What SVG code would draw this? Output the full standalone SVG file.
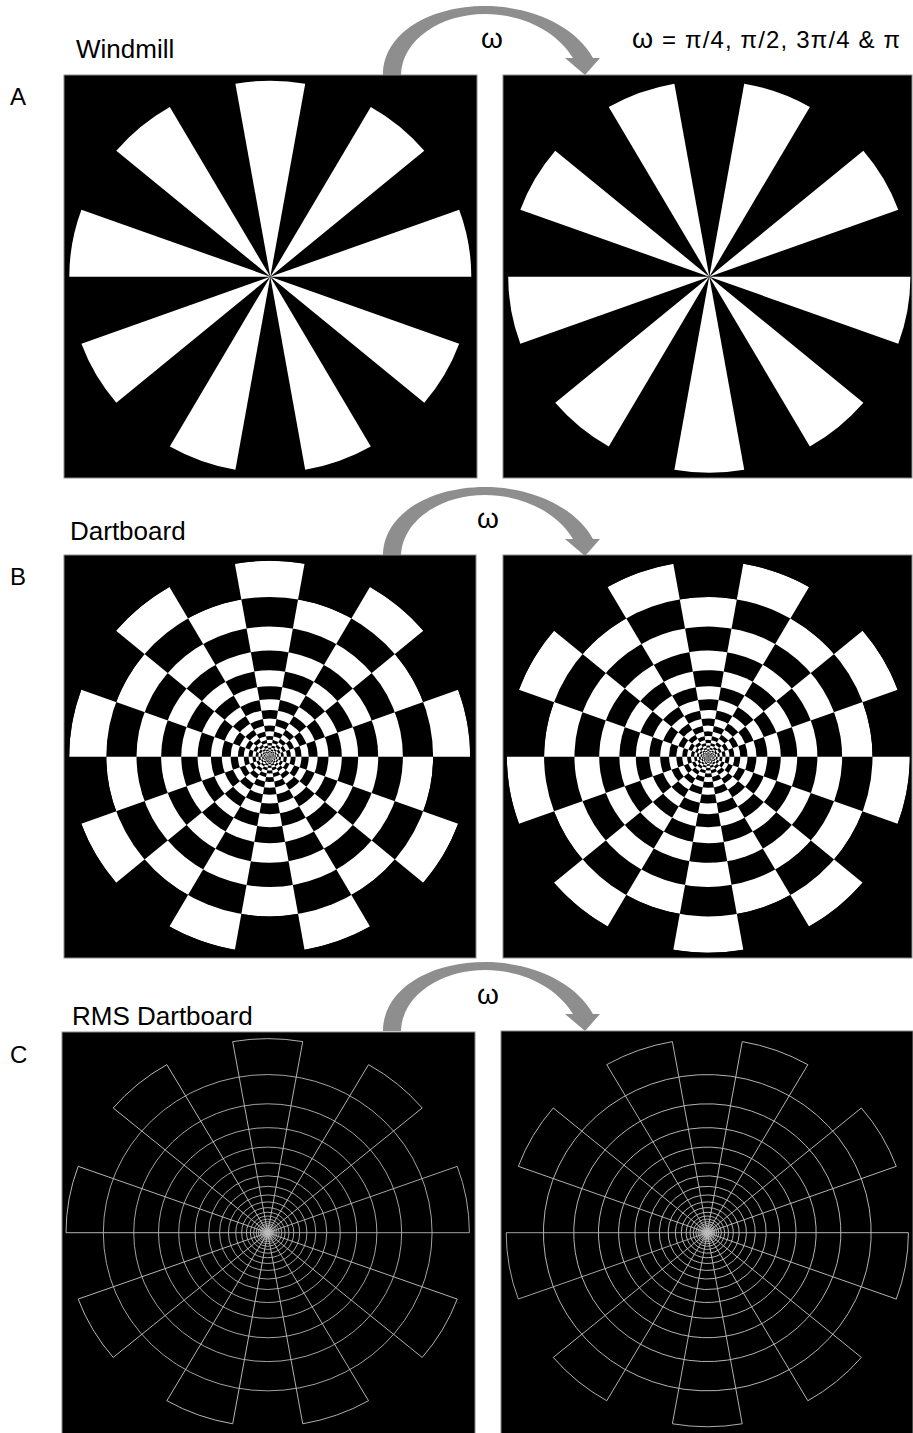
<svg xmlns="http://www.w3.org/2000/svg" xmlns:xlink="http://www.w3.org/1999/xlink" width="913" height="1433" viewBox="0 0 913 1433">
<style>
.lbl{font-family:"Liberation Sans",Arial,sans-serif;fill:#000}
.panel{fill:#000;stroke:#8a8a8a;stroke-width:1}
.arrow{fill:#8e8e8e}
.rms{fill:none;stroke:#bdbdbd;stroke-width:0.85}
</style>
<defs>
<path id="wedge" d="M0 0 L196 0 A196 196 0 0 0 184.18 -67.04 Z"/>
<g id="wind">
<use href="#wedge"/>
<use href="#wedge" transform="rotate(-40)"/>
<use href="#wedge" transform="rotate(-80)"/>
<use href="#wedge" transform="rotate(-120)"/>
<use href="#wedge" transform="rotate(-160)"/>
<use href="#wedge" transform="rotate(-200)"/>
<use href="#wedge" transform="rotate(-240)"/>
<use href="#wedge" transform="rotate(-280)"/>
<use href="#wedge" transform="rotate(-320)"/>
</g>
<mask id="even" maskUnits="userSpaceOnUse" x="-250" y="-250" width="500" height="500">
<circle r="196" fill="#fff"/><circle r="159.74" fill="#000"/>
<circle r="130.19" fill="#fff"/><circle r="106.10" fill="#000"/>
<circle r="86.47" fill="#fff"/><circle r="70.48" fill="#000"/>
<circle r="57.44" fill="#fff"/><circle r="46.81" fill="#000"/>
<circle r="38.15" fill="#fff"/><circle r="31.09" fill="#000"/>
<circle r="25.34" fill="#fff"/><circle r="20.65" fill="#000"/>
<circle r="16.83" fill="#fff"/><circle r="13.72" fill="#000"/>
<circle r="11.18" fill="#fff"/><circle r="9.11" fill="#000"/>
<circle r="7.43" fill="#fff"/><circle r="6.05" fill="#000"/>
<circle r="4.93" fill="#fff"/><circle r="4.02" fill="#000"/>
<circle r="3.28" fill="#fff"/><circle r="2.67" fill="#000"/>
<circle r="2.18" fill="#fff"/><circle r="1.77" fill="#000"/>
<circle r="1.45" fill="#fff"/>
</mask>
<g id="dart">
<use href="#wind" fill="#fff" transform="rotate(-20) scale(0.815)"/>
<g mask="url(#even)">
<circle r="197" fill="#000"/>
<use href="#wind" fill="#fff"/>
</g>
</g>
<g id="rmsLines" class="rms">
<use href="#wind"/>
<circle r="159.74"/><circle r="130.19"/><circle r="106.10"/><circle r="86.47"/>
<circle r="70.48"/><circle r="57.44"/><circle r="46.81"/><circle r="38.15"/>
<circle r="31.09"/><circle r="25.34"/><circle r="20.65"/><circle r="16.83"/>
<circle r="13.72"/><circle r="11.18"/><circle r="9.11"/><circle r="7.43"/>
<circle r="6.05"/><circle r="4.93"/><circle r="4.02"/><circle r="3.28"/>
<circle r="2.67"/><circle r="2.18"/><circle r="1.77"/><circle r="1.45"/>
</g>
<path id="arc" d="M383 75 C383 33 430 6 485 6 C530 6 575 25 593 58 L600 58 L585 75 L565 58 L573 58 C558 33 525 14 485 14 C440 14 402 40 401 75 Z"/>
</defs>
<rect width="913" height="1433" fill="#fff"/>

<g id="connectors">
<use href="#arc" class="arrow"/>
<use href="#arc" class="arrow" transform="translate(0 481)"/>
<use href="#arc" class="arrow" transform="translate(0 956)"/>
</g>

<g id="labels">
<text class="lbl" x="10" y="105" font-size="24">A</text>
<text class="lbl" x="76" y="58" font-size="26">Windmill</text>
<text class="lbl" x="481" y="48" font-size="28">ω</text>
<text class="lbl" x="632" y="48" font-size="24" textLength="268" lengthAdjust="spacing"><tspan font-size="27">ω</tspan> = π/4, π/2, 3π/4 &amp; π</text>
<text class="lbl" x="10" y="585" font-size="24">B</text>
<text class="lbl" x="70" y="540" font-size="26">Dartboard</text>
<text class="lbl" x="477" y="528" font-size="28">ω</text>
<text class="lbl" x="10" y="1063" font-size="24">C</text>
<text class="lbl" x="72" y="1025" font-size="26">RMS Dartboard</text>
<text class="lbl" x="477" y="1004" font-size="28">ω</text>
</g>

<g id="windmill-left">
<rect class="panel" x="64" y="75" width="413" height="403"/>
<use href="#wind" fill="#fff" transform="translate(270.3 276.7) scale(1.0255 1)"/>
</g>
<g id="windmill-right">
<rect class="panel" x="503" y="75" width="409" height="403"/>
<use href="#wind" fill="#fff" transform="translate(709.3 276.7) scale(1.026 1) rotate(-20)"/>
</g>
<g id="dartboard-left">
<rect class="panel" x="64" y="555" width="412" height="403"/>
<use href="#dart" transform="translate(269.7 756.7) scale(1.023 1)"/>
</g>
<g id="dartboard-right">
<rect class="panel" x="503" y="555" width="409" height="403"/>
<use href="#dart" transform="translate(708.3 756.7) scale(1.028 1) rotate(-20)"/>
</g>
<g id="rms-left">
<rect class="panel" x="62" y="1032" width="413" height="402"/>
<use href="#rmsLines" transform="translate(267.7 1232.7) scale(1.029 0.99)"/>
</g>
<g id="rms-right">
<rect class="panel" x="501" y="1031" width="412" height="403"/>
<use href="#rmsLines" transform="translate(707.3 1232.7) scale(1.026 0.99) rotate(-20)"/>
</g>
</svg>
